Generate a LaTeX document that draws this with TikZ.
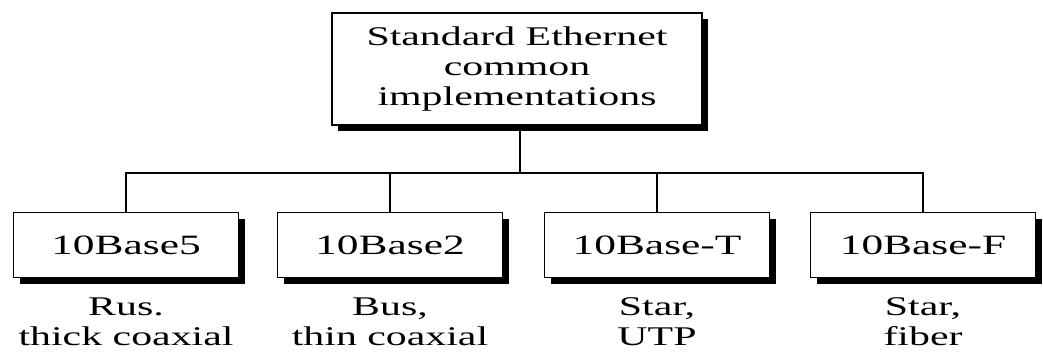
\documentclass[tikz,border=0pt]{standalone}
\usepackage{fontspec}
\setmainfont[FakeStretch=1.55]{Liberation Serif}
\usetikzlibrary{shadows}

\begin{document}
\begin{tikzpicture}[x=1pt,y=1pt,
  box/.style={draw,line width=1.5pt,fill=white,inner sep=0pt,
    drop shadow={shadow xshift=6pt,shadow yshift=-6pt,fill=black,opacity=1}},
  impl/.style={box,minimum width=225pt,minimum height=65pt,font=\fontsize{28}{33}\selectfont},
  medium/.style={align=center,inner sep=0pt,font=\fontsize{27}{30}\selectfont},
  link/.style={line width=1.8pt}]
\useasboundingbox (0,0) rectangle (1043,-356);
% root
\node[box,minimum width=370pt,minimum height=112pt,align=center,
  font=\fontsize{27}{30}\selectfont] (top) at (517,-69)
  {Standard Ethernet\\common\\implementations};
% implementations
\node[impl] (b1) at (126,-245) {10Base5};
\node[impl] (b2) at (390,-245) {10Base2};
\node[impl] (b3) at (657,-245) {10Base-T};
\node[impl] (b4) at (923,-245) {10Base-F};
% media
\node[medium] (m1) at (126,-322) {Rus.\\thick coaxial};
\node[medium] (m2) at (390,-322) {Bus,\\thin coaxial};
\node[medium] (m3) at (657,-322) {Star,\\UTP};
\node[medium] (m4) at (923,-322) {Star,\\fiber};
% tree
\coordinate (bus) at (520,-173);
\draw[link] (top.south -| bus) -- (bus);
\draw[link] (b1.north) |- (bus) -| (b4.north);
\draw[link] (b2.north) -- (b2.north |- bus);
\draw[link] (b3.north) -- (b3.north |- bus);
\end{tikzpicture}
\end{document}
